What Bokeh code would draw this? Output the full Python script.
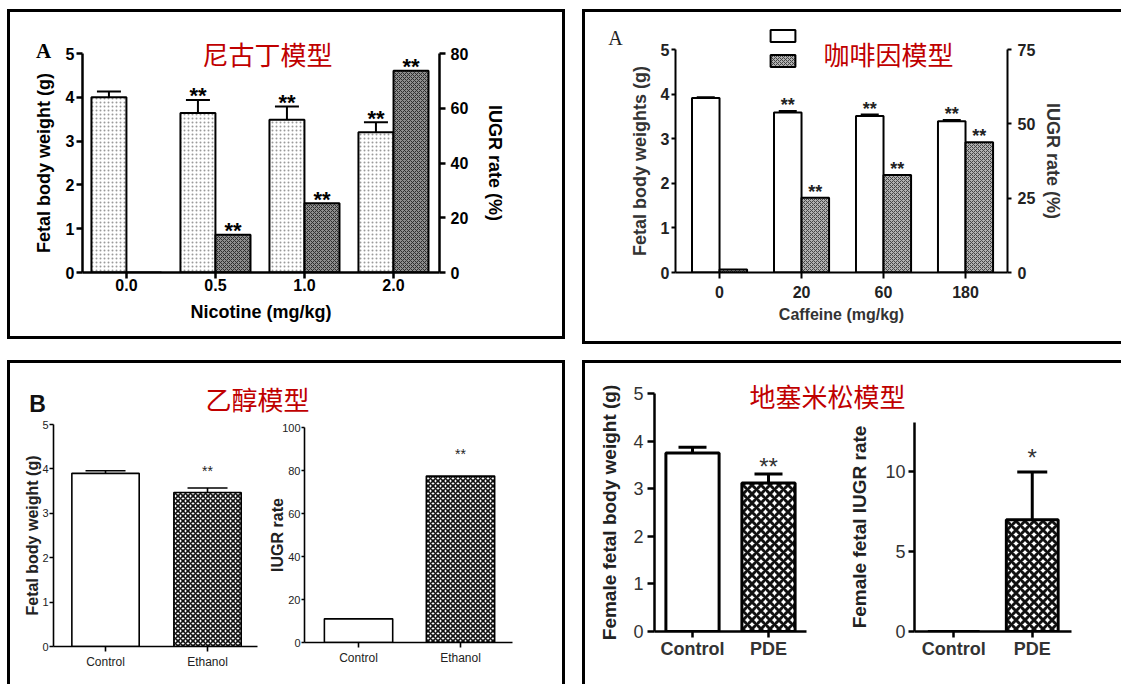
from bokeh.plotting import figure
from bokeh.layouts import row, column
from bokeh.models import (Range1d, LinearAxis, FixedTicker, ColumnDataSource, Whisker,
                          TeeHead, Label, Legend, LegendItem, Spacer)
from bokeh.core.properties import value
from bokeh.embed import file_html
from bokeh.resources import INLINE

# ---------------- data ----------------
nic_doses = ["0.0", "0.5", "1.0", "2.0"]
nic_weight = [4.00, 3.64, 3.49, 3.20]
nic_weight_err = [0.13, 0.30, 0.30, 0.23]
nic_weight_sig = ["", "**", "**", "**"]
nic_iugr = [0.0, 13.8, 25.3, 73.7]
nic_iugr_sig = ["", "**", "**", "**"]

caf_doses = ["0", "20", "60", "180"]
caf_weight = [3.91, 3.59, 3.51, 3.39]
caf_weight_err = [0.02, 0.03, 0.03, 0.03]
caf_weight_sig = ["", "**", "**", "**"]
caf_iugr = [1.0, 25.1, 32.8, 43.8]
caf_iugr_sig = ["", "**", "**", "**"]

eth_groups = ["Control", "Ethanol"]
eth_weight = [3.90, 3.47]
eth_weight_err = [0.06, 0.10]
eth_weight_sig = ["", "**"]
eth_iugr = [11.0, 77.4]
eth_iugr_sig = ["", "**"]

dex_groups = ["Control", "PDE"]
dex_weight = [3.75, 3.12]
dex_weight_err = [0.12, 0.19]
dex_weight_sig = ["", "**"]
dex_iugr = [0.0, 7.0]
dex_iugr_err = [0.0, 3.0]
dex_iugr_sig = ["", "*"]

titles = ["尼古丁模型", "咖啡因模型", "乙醇模型", "地塞米松模型"]

# ---------------- styles ----------------
FONT = "Liberation Sans"
SERIF = "Liberation Serif"
CJK = "Noto Sans CJK SC"
RED = "#c00000"
NAN = float("nan")


def mkfig(w, h, xr, yr, left, right, top, bottom, transparent=False):
    p = figure(width=w, height=h, x_range=Range1d(*xr), y_range=Range1d(*yr),
               output_backend="svg", toolbar_location=None,
               min_border_left=left, min_border_right=right,
               min_border_top=top, min_border_bottom=bottom)
    p.frame_align = False
    p.xgrid.visible = False
    p.ygrid.visible = False
    p.outline_line_color = None
    if transparent:
        p.background_fill_alpha = 0
        p.border_fill_alpha = 0
    return p


def overlay(w, h):
    """transparent text layer laid over a whole panel (frame == canvas)"""
    p = figure(width=w, height=h, x_range=Range1d(0, w), y_range=Range1d(h, 0),
               x_axis_type=None, y_axis_type=None, output_backend="svg",
               toolbar_location=None, min_border=0)
    p.frame_align = False
    p.outline_line_color = None
    p.background_fill_alpha = 0
    p.border_fill_alpha = 0
    p.margin = (0, 0, 0, -w)
    return p


def style_axis(ax, lw, tick_out, size, bold, standoff, color="black",
               label=None, lsize=18, lbold=True, lstandoff=5, lcolor="black"):
    ax.axis_line_width = lw
    ax.axis_line_color = "black"
    ax.major_tick_line_width = lw
    ax.major_tick_line_color = "black"
    ax.major_tick_in = 0
    ax.major_tick_out = tick_out
    ax.minor_tick_line_color = None
    ax.major_label_text_font = FONT
    ax.major_label_text_font_size = "%dpx" % size
    ax.major_label_text_font_style = "bold" if bold else "normal"
    ax.major_label_text_color = color
    ax.major_label_standoff = standoff
    if label is not None:
        ax.axis_label = label
        ax.axis_label_text_font = FONT
        ax.axis_label_text_font_size = "%dpx" % lsize
        ax.axis_label_text_font_style = "bold" if lbold else "normal"
        ax.axis_label_text_color = lcolor
        ax.axis_label_standoff = lstandoff


def cat_axis(p, cats):
    ax = p.xaxis[0]
    ax.ticker = FixedTicker(ticks=list(range(len(cats))))
    ax.major_label_overrides = {i: c for i, c in enumerate(cats)}
    return ax


def add_err(p, xs, lo, err, cap, lw, yname="default"):
    src = ColumnDataSource(dict(base=xs, lower=lo, upper=[a + b for a, b in zip(lo, err)]))
    p.add_layout(Whisker(source=src, base="base", lower="lower", upper="upper",
                         dimension="height", line_width=lw, line_color="black",
                         lower_head=None, y_range_name=yname,
                         upper_head=TeeHead(size=cap, line_width=lw, line_color="black")))


def add_sig(p, xs, ys, sig, size, bold, yoff, color="black", yname="default"):
    src = ColumnDataSource(dict(x=xs, y=ys, t=sig))
    p.text(x="x", y="y", text="t", source=src, text_align="center",
           text_baseline="alphabetic", y_offset=yoff, text_font=value(FONT),
           text_font_size="%dpx" % size, text_font_style="bold" if bold else "normal",
           text_color=color, y_range_name=yname)


def add_label(p, text, x, y, font, size, style="normal", color="black"):
    p.add_layout(Label(x=x, y=y, text=text, text_font=font, text_font_size="%dpx" % size,
                       text_font_style=style, text_color=color, text_align="center",
                       text_baseline="middle"))


# ================= Panel 1: nicotine (dual axis) =================
pA = mkfig(552, 324, (-0.494, 3.517), (0, 5), 72, 123, 41, 64)
pA.extra_y_ranges = {"iugr": Range1d(0, 80)}
idx = list(range(len(nic_doses)))
xw = [i - 0.197 for i in idx]
xi = [i + 0.197 for i in idx]
pA.vbar(x=xw, top=nic_weight, bottom=0, width=0.393, fill_color="white",
        line_color="black", line_width=2, hatch_pattern="dot", hatch_color="#9a9a9a",
        hatch_scale=4)
pA.vbar(x=xi, top=nic_iugr, bottom=0, width=0.393, fill_color="#8e8e8e",
        line_color="black", line_width=2, hatch_pattern="diagonal_cross",
        hatch_color="#2e2e2e", hatch_scale=4, hatch_weight=1, y_range_name="iugr")
add_err(pA, xw, nic_weight, nic_weight_err, 24, 2)
add_sig(pA, xw, [a + b for a, b in zip(nic_weight, nic_weight_err)], nic_weight_sig, 22, True, -4)
add_sig(pA, xi, nic_iugr, nic_iugr_sig, 22, True, -4, yname="iugr")
style_axis(cat_axis(pA, nic_doses), 2.5, 6, 16, True, 0,
           label="Nicotine (mg/kg)", lsize=18, lstandoff=8)
pA.yaxis[0].ticker = FixedTicker(ticks=[0, 1, 2, 3, 4, 5])
style_axis(pA.yaxis[0], 2.5, 6, 16, True, 2, label="Fetal body weight (g)", lsize=18, lstandoff=9)
axA2 = LinearAxis(y_range_name="iugr", ticker=FixedTicker(ticks=[0, 20, 40, 60, 80]))
style_axis(axA2, 2.5, 6, 16, True, 5, label="IUGR rate (%)", lsize=18, lstandoff=14)
pA.add_layout(axA2, "right")

oA = overlay(552, 324)
add_label(oA, titles[0], 257, 41, CJK, 26, color=RED)
add_label(oA, "A", 33, 38, SERIF, 21, style="bold")

# ================= Panel 2: caffeine (dual axis) =================
pC = mkfig(536, 329, (-0.537, 3.512), (0, 5), 90, 114, 37, 69)
pC.extra_y_ranges = {"iugr": Range1d(0, 75)}
idx = list(range(len(caf_doses)))
xw = [i - 0.168 for i in idx]
xi = [i + 0.168 for i in idx]
pC.vbar(x=xw, top=caf_weight, bottom=0, width=0.336, fill_color="white",
        line_color="black", line_width=2)
pC.vbar(x=xi, top=caf_iugr, bottom=0, width=0.336, fill_color="#b0b0b0",
        line_color="black", line_width=2, hatch_pattern="diagonal_cross",
        hatch_color="#444444", hatch_scale=4, hatch_weight=1, y_range_name="iugr")
add_err(pC, xw, caf_weight, caf_weight_err, 18, 2)
add_sig(pC, xw, [a + b for a, b in zip(caf_weight, caf_weight_err)], caf_weight_sig, 18, True, -6, color="#222222")
add_sig(pC, xi, caf_iugr, caf_iugr_sig, 18, True, -6, color="#222222", yname="iugr")
style_axis(cat_axis(pC, caf_doses), 2, 6, 16, True, 7, color="#222222",
           label="Caffeine (mg/kg)", lsize=16, lstandoff=5, lcolor="#333333")
pC.yaxis[0].ticker = FixedTicker(ticks=[0, 1, 2, 3, 4, 5])
style_axis(pC.yaxis[0], 2, 4, 16, True, 2, color="#222222",
           label="Fetal body weights (g)", lsize=18, lstandoff=8, lcolor="#333333")
axC2 = LinearAxis(y_range_name="iugr", ticker=FixedTicker(ticks=[0, 25, 50, 75]))
style_axis(axC2, 2, 4, 16, True, 6, color="#222222",
           label="IUGR rate (%)", lsize=18, lstandoff=5, lcolor="#333333")
pC.add_layout(axC2, "right")

# legend swatches (legend-only renderers: a single NaN datum, nothing is drawn)
oC = overlay(536, 329)
lw_white = oC.vbar(x=[NAN], top=[NAN], width=1, fill_color="white",
                   line_color="black", line_width=2)
lw_grey = oC.vbar(x=[NAN], top=[NAN], width=1, fill_color="#b0b0b0", line_color="black",
                  line_width=2, hatch_pattern="diagonal_cross", hatch_color="#444444",
                  hatch_scale=4, hatch_weight=1)
oC.add_layout(Legend(items=[LegendItem(label=value(" "), renderers=[lw_white]),
                            LegendItem(label=value(" "), renderers=[lw_grey])],
                     location=(182, 273), orientation="vertical", glyph_width=31,
                     glyph_height=15, label_height=15, label_width=0, label_standoff=0,
                     spacing=10, padding=0, margin=0, border_line_color=None,
                     background_fill_alpha=0))
add_label(oC, titles[1], 303, 41, CJK, 26, color=RED)
add_label(oC, "A", 30, 25, SERIF, 20, color="#222222")

# ================= Panel 3: ethanol (two plots) =================
idx = list(range(len(eth_groups)))
pB1 = mkfig(250, 321, (-0.51, 1.49), (0, 5), 43, 3, 61, 38)
pB1.vbar(x=idx, top=eth_weight, width=0.66, fill_color="white",
         line_color="black", line_width=1.6, hatch_pattern=["blank", "diagonal_cross"],
         hatch_color="#111111", hatch_scale=5, hatch_weight=1.6)
add_err(pB1, idx, eth_weight, eth_weight_err, 40, 1.6)
add_sig(pB1, idx, [a + b for a, b in zip(eth_weight, eth_weight_err)], eth_weight_sig, 14, False, -17, color="#222222")
style_axis(cat_axis(pB1, eth_groups), 1.6, 5, 12, False, 3, color="#222222")
pB1.yaxis[0].ticker = FixedTicker(ticks=[0, 1, 2, 3, 4, 5])
style_axis(pB1.yaxis[0], 1.6, 4, 11, False, 1, color="#222222",
           label="Fetal body weight (g)", lsize=16, lstandoff=-2, lcolor="#222222")

pB2 = mkfig(302, 321, (-0.53, 1.51), (0, 100), 44, 50, 64, 42)
pB2.vbar(x=idx, top=eth_iugr, width=0.67, fill_color="white",
         line_color="black", line_width=1.6, hatch_pattern=["blank", "diagonal_cross"],
         hatch_color="#111111", hatch_scale=5, hatch_weight=1.6)
add_sig(pB2, idx, eth_iugr, eth_iugr_sig, 14, False, -22, color="#222222")
style_axis(cat_axis(pB2, eth_groups), 1.6, 5, 12, False, 3, color="#222222")
pB2.yaxis[0].ticker = FixedTicker(ticks=[0, 20, 40, 60, 80, 100])
style_axis(pB2.yaxis[0], 1.6, 3, 11, False, 1, color="#222222",
           label="IUGR rate", lsize=16, lstandoff=-7, lcolor="#222222")

oB = overlay(552, 321)
add_label(oB, titles[2], 247, 35, CJK, 26, color=RED)
add_label(oB, "B", 27, 40, FONT, 23, style="bold", color="#111111")

# ================= Panel 4: dexamethasone (two plots) =================
idx = list(range(len(dex_groups)))
pD1 = mkfig(255, 321, (-0.5, 1.5), (0, 5), 69, 34, 30, 53)
pD1.vbar(x=idx, top=dex_weight, width=0.70, fill_color="white",
         line_color="black", line_width=3, hatch_pattern=["blank", "diagonal_cross"],
         hatch_color="#111111", hatch_scale=9, hatch_weight=3)
add_err(pD1, idx, dex_weight, dex_weight_err, 28, 3)
add_sig(pD1, idx, [a + b for a, b in zip(dex_weight, dex_weight_err)], dex_weight_sig, 24, False, -7, color="#333333")
style_axis(cat_axis(pD1, dex_groups), 2.5, 6, 18, True, 1, color="#333333")
pD1.yaxis[0].ticker = FixedTicker(ticks=[0, 1, 2, 3, 4, 5])
style_axis(pD1.yaxis[0], 2.5, 7, 18, False, 4, color="#333333",
           label="Female fetal body weight (g)", lsize=19, lstandoff=10, lcolor="#222222")

pD2 = mkfig(281, 321, (-0.5, 1.5), (0, 13.1), 74, 50, 59, 53)
pD2.vbar(x=idx, top=dex_iugr, width=0.66, fill_color="white",
         line_color="black", line_width=3, hatch_pattern=["blank", "diagonal_cross"],
         hatch_color="#111111", hatch_scale=9, hatch_weight=3)
add_err(pD2, idx, dex_iugr, dex_iugr_err, 30, 3)
add_sig(pD2, idx, [a + b for a, b in zip(dex_iugr, dex_iugr_err)], dex_iugr_sig, 24, False, -14, color="#333333")
style_axis(cat_axis(pD2, dex_groups), 2.5, 6, 18, True, 1, color="#333333")
pD2.yaxis[0].ticker = FixedTicker(ticks=[0, 5, 10])
style_axis(pD2.yaxis[0], 2.5, 6, 18, False, 3, color="#333333",
           label="Female fetal IUGR rate", lsize=19, lstandoff=12, lcolor="#222222")

oD = overlay(536, 321)
add_label(oD, titles[3], 242, 32, CJK, 26, color=RED)

# ================= layout =================
B = "3px solid black"
wA = row(pA, oA, styles={"border": B})
wC = row(pC, oC, styles={"border-top": B, "border-left": B, "border-bottom": B})
wB = row(pB1, pB2, oB, styles={"border-top": B, "border-left": B, "border-right": B})
wD = row(pD1, pD2, oD, styles={"border-top": B, "border-left": B})

top = row(Spacer(width=7, height=1), wA, Spacer(width=17, height=1), wC)
bottom = row(Spacer(width=7, height=1), wB, Spacer(width=17, height=1), wD)
page = column(Spacer(width=1, height=9), top, Spacer(width=1, height=16), bottom)

open("out.html", "w").write(file_html(page, INLINE))
